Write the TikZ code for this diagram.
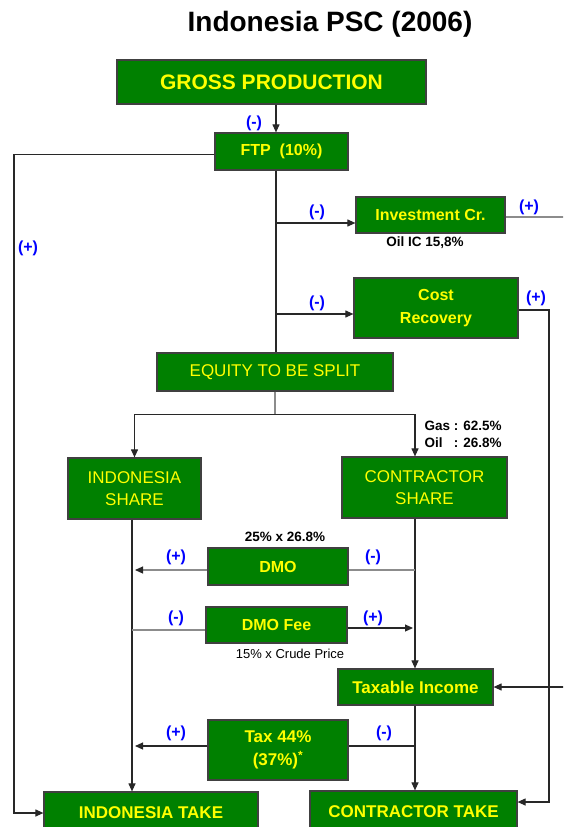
\documentclass[tikz,border=0pt]{standalone}
\usepackage{fontspec}
\setmainfont{Liberation Sans}
\usetikzlibrary{arrows.meta,calc,positioning}
\definecolor{pscgreen}{RGB}{0,128,0}
\definecolor{pscyellow}{RGB}{255,255,0}
\definecolor{signblue}{RGB}{0,0,255}
\definecolor{wire}{RGB}{40,40,40}
\definecolor{wirelt}{RGB}{140,140,140}
\tikzset{pin/.style={-{Triangle[length=8pt,width=7pt,color=wire]}},
  link/.style={draw=wire, line width=1.1pt},
  dim/.style={draw=wirelt, line width=1.1pt},
  box/.style={draw=black!75, line width=1.2pt, fill=pscgreen, text=pscyellow, inner sep=0pt, align=center, font=\fontsize{16}{23}\selectfont\bfseries},
  boxr/.style={box, font=\fontsize{17}{22}\selectfont},
  sign/.style={text=signblue, font=\fontsize{16}{18}\selectfont\bfseries},
  note/.style={font=\fontsize{13.5}{17}\selectfont\bfseries}}

\begin{document}
\begin{tikzpicture}[x=1pt, y=-1pt]
  \useasboundingbox (0,0) rectangle (563,827);
  \clip (0,0) rectangle (563,827);
  \node[font=\fontsize{28}{32}\selectfont\bfseries] (title) at (330,24) {Indonesia PSC (2006)};
  % boxes
  \node[box, font=\fontsize{21}{24}\selectfont\bfseries, minimum width=309pt, minimum height=44pt] (gross) at (271.5,82) {GROSS PRODUCTION};
  \node[box, minimum width=133pt, minimum height=37pt] (ftp) at (281.5,151.5) {FTP~~(10\%)};
  \node[box, minimum width=149pt, minimum height=36pt] (inv) at (430.5,215) {Investment Cr.};
  \node[box, minimum width=164pt, minimum height=60pt] (cr) at (436,308) {Cost\\Recovery};
  \node[boxr, minimum width=236pt, minimum height=38pt] (equity) at (275,372) {EQUITY TO BE SPLIT};
  \node[boxr, minimum width=133pt, minimum height=61pt] (indshare) at (134.5,488.5) {INDONESIA\\SHARE};
  \node[boxr, minimum width=165pt, minimum height=61pt] (conshare) at (424.5,487.5) {CONTRACTOR\\SHARE};
  \node[box, minimum width=140pt, minimum height=37pt] (dmo) at (278,566.5) {DMO};
  \node[box, minimum width=141pt, minimum height=36pt] (dmofee) at (276.5,625) {DMO Fee};
  \node[box, font=\fontsize{17}{23}\selectfont\bfseries, minimum width=155pt, minimum height=36pt] (taxable) at (415.5,687) {Taxable Income};
  \node[box, font=\fontsize{17}{23}\selectfont\bfseries, minimum width=140pt, minimum height=60pt] (tax) at (278,750) {Tax 44\%\\(37\%)\textsuperscript{*}};
  \node[box, font=\fontsize{17}{23}\selectfont\bfseries, minimum width=214pt, minimum height=42pt] (indtake) at (151,813) {INDONESIA TAKE};
  \node[box, font=\fontsize{17}{23}\selectfont\bfseries, minimum width=207pt, minimum height=42pt] (contake) at (413.5,812) {CONTRACTOR TAKE};
  % notes
  \node[note] (icnote) at (425,243) {Oil IC 15,8\%};
  \node[note, anchor=west] (splitnote) at (421,435.5) {\begin{tabular}{@{}l@{ : }l@{}}Gas & 62.5\%\\Oil & 26.8\%\end{tabular}};
  \node[note] (dmonote) at (285,537) {25\% x 26.8\%};
  \node[note, font=\fontsize{13}{16}\selectfont] (feenote) at (290,654) {15\% x Crude Price};
  % rails
  \coordinate (spine) at (276,0);
  \coordinate (ispine) at (132,0);
  \coordinate (itip) at (135,0);
  \coordinate (cspine) at (415,0);
  \coordinate (ctip) at (413,0);
  \coordinate (lrail) at (14,0);
  \coordinate (rrail) at (549,0);
  \coordinate (orail) at (580,0);
  % top part
  \draw[link,pin] (gross.south -| spine) -- (ftp.north -| spine);
  \draw[link] (ftp.south -| spine) -- (equity.north -| spine);
  \draw[link,pin] ($(ftp.west)+(0,3)$) -- ($(ftp.west -| lrail)+(0,3)$) |- (indtake.west);
  \coordinate (invin) at ($(inv.west)+(0,8)$);
  \coordinate (crin) at ($(cr.west)+(0,6)$);
  \draw[link,pin] (invin -| spine) -- (invin);
  \draw[link,pin] (crin -| spine) -- (crin);
  \draw[dim] ($(inv.east)+(0,2)$) -- ($(inv.east -| orail)+(0,2)$);
  \draw[link,pin] (taxable.east -| orail) -- (taxable.east);
  \draw[link,pin] ($(cr.east)+(0,2)$) -- ($(cr.east -| rrail)+(0,2)$) |- ($(contake.east)+(0,-10)$);
  % split
  \draw[dim] (equity.south) -- ++(0,23) coordinate (split);
  \draw[link,pin] (split) -| (indshare.north);
  \draw[link,pin] (split) -| (conshare.north -| cspine);
  \draw[link,pin] (indshare.south -| ispine) -- (indtake.north -| ispine);
  \draw[link,pin] (conshare.south -| cspine) -- (taxable.north -| cspine);
  \draw[link,pin] (taxable.south -| cspine) -- (contake.north -| cspine);
  % DMO, DMO fee, tax
  \draw[dim] ($(dmo.east -| cspine)+(0,3.5)$) -- ($(dmo.east)+(0,3.5)$);
  \draw[dim,pin] ($(dmo.west)+(0,3.5)$) -- ($(dmo.west -| itip)+(0,3.5)$);
  \draw[dim] ($(dmofee.west -| ispine)+(0,5)$) -- ($(dmofee.west)+(0,5)$);
  \draw[link,pin] ($(dmofee.east)+(0,3)$) -- ($(dmofee.east -| ctip)+(0,3)$);
  \draw[link] ($(tax.east -| cspine)+(0,-4)$) -- ($(tax.east)+(0,-4)$);
  \draw[link,pin] ($(tax.west)+(0,-4)$) -- ($(tax.west -| itip)+(0,-4)$);
  % signs
  \node[sign] (s1) at (254,123) {(-)};
  \node[sign] (s2) at (28,248) {(+)};
  \node[sign] (s3) at (317,212) {(-)};
  \node[sign] (s4) at (529,207) {(+)};
  \node[sign] (s5) at (317,303) {(-)};
  \node[sign] (s6) at (536,298) {(+)};
  \node[sign] (s7) at (176,557) {(+)};
  \node[sign] (s8) at (373,557) {(-)};
  \node[sign] (s9) at (176,618) {(-)};
  \node[sign] (s10) at (373,618) {(+)};
  \node[sign] (s11) at (176,733) {(+)};
  \node[sign] (s12) at (384,733) {(-)};
\end{tikzpicture}
\end{document}
